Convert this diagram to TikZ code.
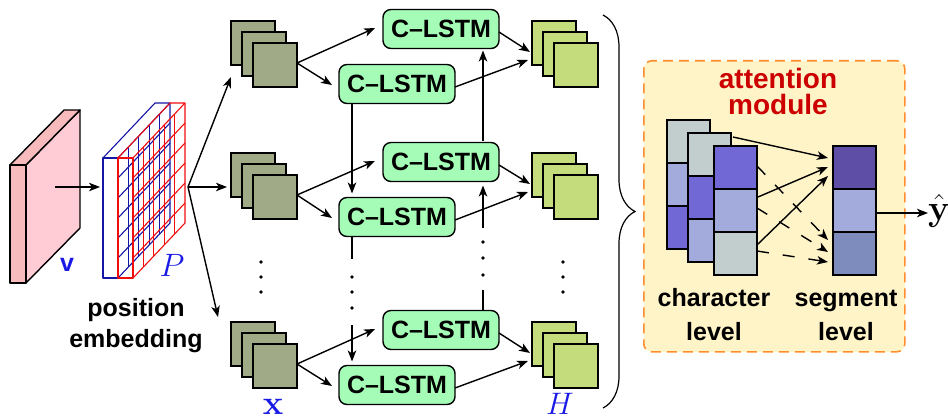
\documentclass[tikz,border=0pt]{standalone}
\usepackage{graphicx}
\usepackage[no-math]{fontspec}
\setmainfont{Liberation Sans}
\usetikzlibrary{arrows.meta,calc,decorations.pathreplacing}

\definecolor{slabpink}{HTML}{FFCCD6}
\definecolor{slabfront}{HTML}{F7BABD}
\definecolor{gridblue}{HTML}{1616A6}
\definecolor{gridred}{HTML}{F20D0D}
\definecolor{featdark}{HTML}{A0AA87}
\definecolor{featlight}{HTML}{C5DC7D}
\definecolor{lstmgreen}{HTML}{A5FCB6}
\definecolor{attnfill}{HTML}{FFF4C8}
\definecolor{attnorange}{HTML}{FF8F2E}
\definecolor{attnred}{HTML}{CC0000}
\definecolor{labelblue}{HTML}{1A1AE6}
\definecolor{cgray}{HTML}{C2CDCD}
\definecolor{clight}{HTML}{A3ABDD}
\definecolor{cpurple}{HTML}{7168D5}
\definecolor{sdark}{HTML}{5F4EA6}
\definecolor{sbottom}{HTML}{7D8BBD}

% a thin slab with a grid on its receding side face; #1 colour, #2 left x
\newcommand{\gridslab}[2]{%
  \begin{scope}[shift={(#2,158)}, draw=#1, line width=1.1pt, line join=round]
    \draw (0,0) rectangle (15,120);
    \draw (0,0) -- (52,-55) -- (67,-55) -- (15,0);
    \draw (67,-55) -- (67,65) -- (15,120);
    \foreach \k in {1,...,5} \draw (15,\k*20) -- (67,\k*20-55);
    \foreach \j in {1,...,4} \draw ({15+\j*52/5},{-\j*55/5}) -- ++(0,120);
  \end{scope}}

\begin{document}
\begin{tikzpicture}[x=1pt,y=-1pt,
  txt/.style={font=\bfseries\fontsize{25}{30}\selectfont},
  sq/.style={draw, line width=1.4pt, minimum size=44pt, inner sep=0pt, outer sep=0pt, anchor=north west},
  sqin/.style={sq, fill=featdark},
  sqout/.style={sq, fill=featlight},
  lstm/.style={draw, line width=1.4pt, rounded corners=8pt, fill=lstmgreen,
    minimum width=116pt, minimum height=39pt, inner sep=0pt, outer sep=0pt,
    font=\bfseries\fontsize{25}{30}\selectfont},
  cell/.style={draw, line width=1.4pt, minimum width=43pt, minimum height=43pt,
    inner sep=0pt, outer sep=0pt, anchor=north west},
  arr/.style={line width=1.4pt, -{Stealth[length=11pt,width=8.5pt,inset=3pt]}},
  darr/.style={arr, dash pattern=on 12pt off 14pt},
  lbl/.style={text=labelblue, font=\fontsize{25}{30}\selectfont, inner sep=0pt}]

\useasboundingbox (0,0) rectangle (948,420);

% input feature volume v
\begin{scope}[line width=1.4pt, line join=round]
  \filldraw[fill=slabpink] (26,165) -- (80,110) -- (80,228) -- (26,283) -- cycle;
  \filldraw[fill=slabfront] (10,165) -- (64,110) -- (80,110) -- (26,165) -- cycle;
  \filldraw[fill=slabfront] (10,165) rectangle (26,283);
\end{scope}
\coordinate (vin) at (55,187);
\coordinate (pin) at (100,187);
\draw[arr] (vin) -- (pin);

% position embedding grids
\gridslab{gridblue}{103}
\gridslab{gridred}{118}
\coordinate (pout) at (188,187);

\node[lbl, font=\bfseries\fontsize{25}{30}\selectfont] (vlab) at (67,265) {v};
\node[lbl] (plab) at (172,265) {\scalebox{1.3}{$P$}};
\node[txt, align=center, font=\bfseries\fontsize{25}{31}\selectfont] (poslab) at (136,326) {position\\embedding};

% input feature stacks
\node[sqin] (i1a) at (231,21) {};
\node[sqin] (i1b) at (242,32) {};
\node[sqin] (i1c) at (253,43) {};
\node[sqin] (i2a) at (231,153) {};
\node[sqin] (i2b) at (242,164) {};
\node[sqin] (i2c) at (253,175) {};
\node[sqin] (i3a) at (231,322) {};
\node[sqin] (i3b) at (242,333) {};
\node[sqin] (i3c) at (253,344) {};

% output feature stacks
\node[sqout] (o1a) at (532,21) {};
\node[sqout] (o1b) at (543,32) {};
\node[sqout] (o1c) at (554,43) {};
\node[sqout] (o2a) at (532,153) {};
\node[sqout] (o2b) at (543,164) {};
\node[sqout] (o2c) at (554,175) {};
\node[sqout] (o3a) at (532,322) {};
\node[sqout] (o3b) at (543,333) {};
\node[sqout] (o3c) at (554,344) {};

\node[lbl] (xlab) at (273,407) {\scalebox{1.38}{$\mathbf{x}$}};
\node[lbl] (hlab) at (560,404) {\scalebox{1.25}{$H$}};

% recurrent units
\node[lstm] (u1) at (441,29) {C--LSTM};
\node[lstm] (l1) at (397,84) {C--LSTM};
\node[lstm] (u2) at (441,162) {C--LSTM};
\node[lstm] (l2) at (397,217) {C--LSTM};
\node[lstm] (u3) at (441,330) {C--LSTM};
\node[lstm] (l3) at (397,385) {C--LSTM};

% embedding to stacks
\draw[arr] (pout) -- ($(i1a.south west)+(0,12)$);
\draw[arr] (pout) -- ($(i2a.west)+(-4,12)$);
\draw[arr] (pout) -- ($(i3a.north west)+(-13,-5)$);

% stacks to units and units to outputs
\foreach \r in {1,2,3}{
  \draw[arr] ($(i\r c.east)+(0,-2)$) -- ($(u\r.west)+(-8,-1)$);
  \draw[arr] ($(i\r c.east)+(0,-2)$) -- ($(l\r.west)+(-7,1)$);
  \draw[arr] ($(u\r.east)+(0,3)$) -- ($(o\r a.west)+(-2,9)$);
  \draw[arr] ($(l\r.east)+(0,3)$) -- ($(o\r a.west)+(-4,17)$);
}

% recurrence between rows
\draw[arr] ($(l1.south west)+(13,0)$) -- ($(l2.north west)+(13,-4)$);
\draw[arr] ($(u2.north east)+(-16,-2)$) -- ($(u1.south east)+(-16,2)$);

\coordinate (ld1) at (352,259);
\coordinate (ld2) at (352,325);
\draw[line width=1.4pt] ($(l2.south west)+(13,0)$) -- (ld1);
\draw[arr] (ld2) -- ($(l3.north west)+(13,-4)$);
\coordinate (rd1) at (483,290);
\coordinate (rd2) at (483,228);
\draw[line width=1.4pt] ($(u3.north east)+(-16,0)$) -- (rd1);
\draw[arr] (rd2) -- ($(u2.south east)+(-16,4)$);

% vertical ellipses
\foreach \y in {277,292,308} \fill (352,\y) circle (1.8pt);
\foreach \y in {242,258,275} \fill (483,\y) circle (1.8pt);
\foreach \y in {262,277,292} {\fill (261,\y) circle (1.8pt); \fill (563,\y) circle (1.8pt);}

% brace gathering the outputs
\draw[line width=1.2pt, decorate, decoration={brace, amplitude=32pt}] (603,15) -- (603,408);

% attention module
\node[draw=attnorange, line width=1.6pt, dash pattern=on 10pt off 6pt, fill=attnfill,
  rounded corners=8pt, minimum width=261pt, minimum height=291pt, inner sep=0pt,
  anchor=north west] (attbox) at (643,60) {};
\node[align=center, text=attnred, font=\bfseries\fontsize{28}{26}\selectfont] (attlab) at (778,91) {attention\\module};

\node[cell, fill=cgray]   (a1) at (667,120) {};
\node[cell, fill=clight]  (a2) at (667,163) {};
\node[cell, fill=cpurple] (a3) at (667,206) {};
\node[cell, fill=cgray]   (b1) at (688,133) {};
\node[cell, fill=cpurple] (b2) at (688,176) {};
\node[cell, fill=clight]  (b3) at (688,219) {};
\node[cell, fill=cpurple] (c1) at (714,146) {};
\node[cell, fill=clight]  (c2) at (714,189) {};
\node[cell, fill=cgray]   (c3) at (714,232) {};

\node[cell, fill=sdark]   (g1) at (833,146) {};
\node[cell, fill=clight]  (g2) at (833,189) {};
\node[cell, fill=sbottom] (g3) at (833,232) {};

\draw[arr] ($(b1.north east)+(2,4)$) -- ($(g1.north west)+(-5,12)$);
\draw[arr] ($(c2.north east)+(1,8)$) -- ($(g1.north west)+(-5,21)$);
\draw[arr] ($(c3.north east)+(1,12)$) -- ($(g1.north west)+(-5,30)$);
\draw[darr] ($(c1.east)+(0,-1.5)$) -- ($(g3.north west)+(-5,8)$);
\draw[darr] ($(c2.east)+(0,-2.5)$) -- ($(g3.north west)+(-5,20)$);
\draw[darr] ($(c3.east)+(0,-2.5)$) -- ($(g3.north west)+(-5,30)$);

\node[txt, align=center, font=\bfseries\fontsize{25}{34}\selectfont] (charlab) at (714,315) {character\\level};
\node[txt, align=center, font=\bfseries\fontsize{25}{34}\selectfont] (seglab) at (846,315) {segment\\level};

\node[anchor=west, inner sep=0pt, font=\fontsize{25}{30}\selectfont] (yhat) at (928,211) {\scalebox{1.45}{$\hat{\mathbf{y}}$}};
\draw[arr] ($(g2.east)+(0,2.5)$) -- ($(yhat.west)+(0,2)$);

\end{tikzpicture}
\end{document}
